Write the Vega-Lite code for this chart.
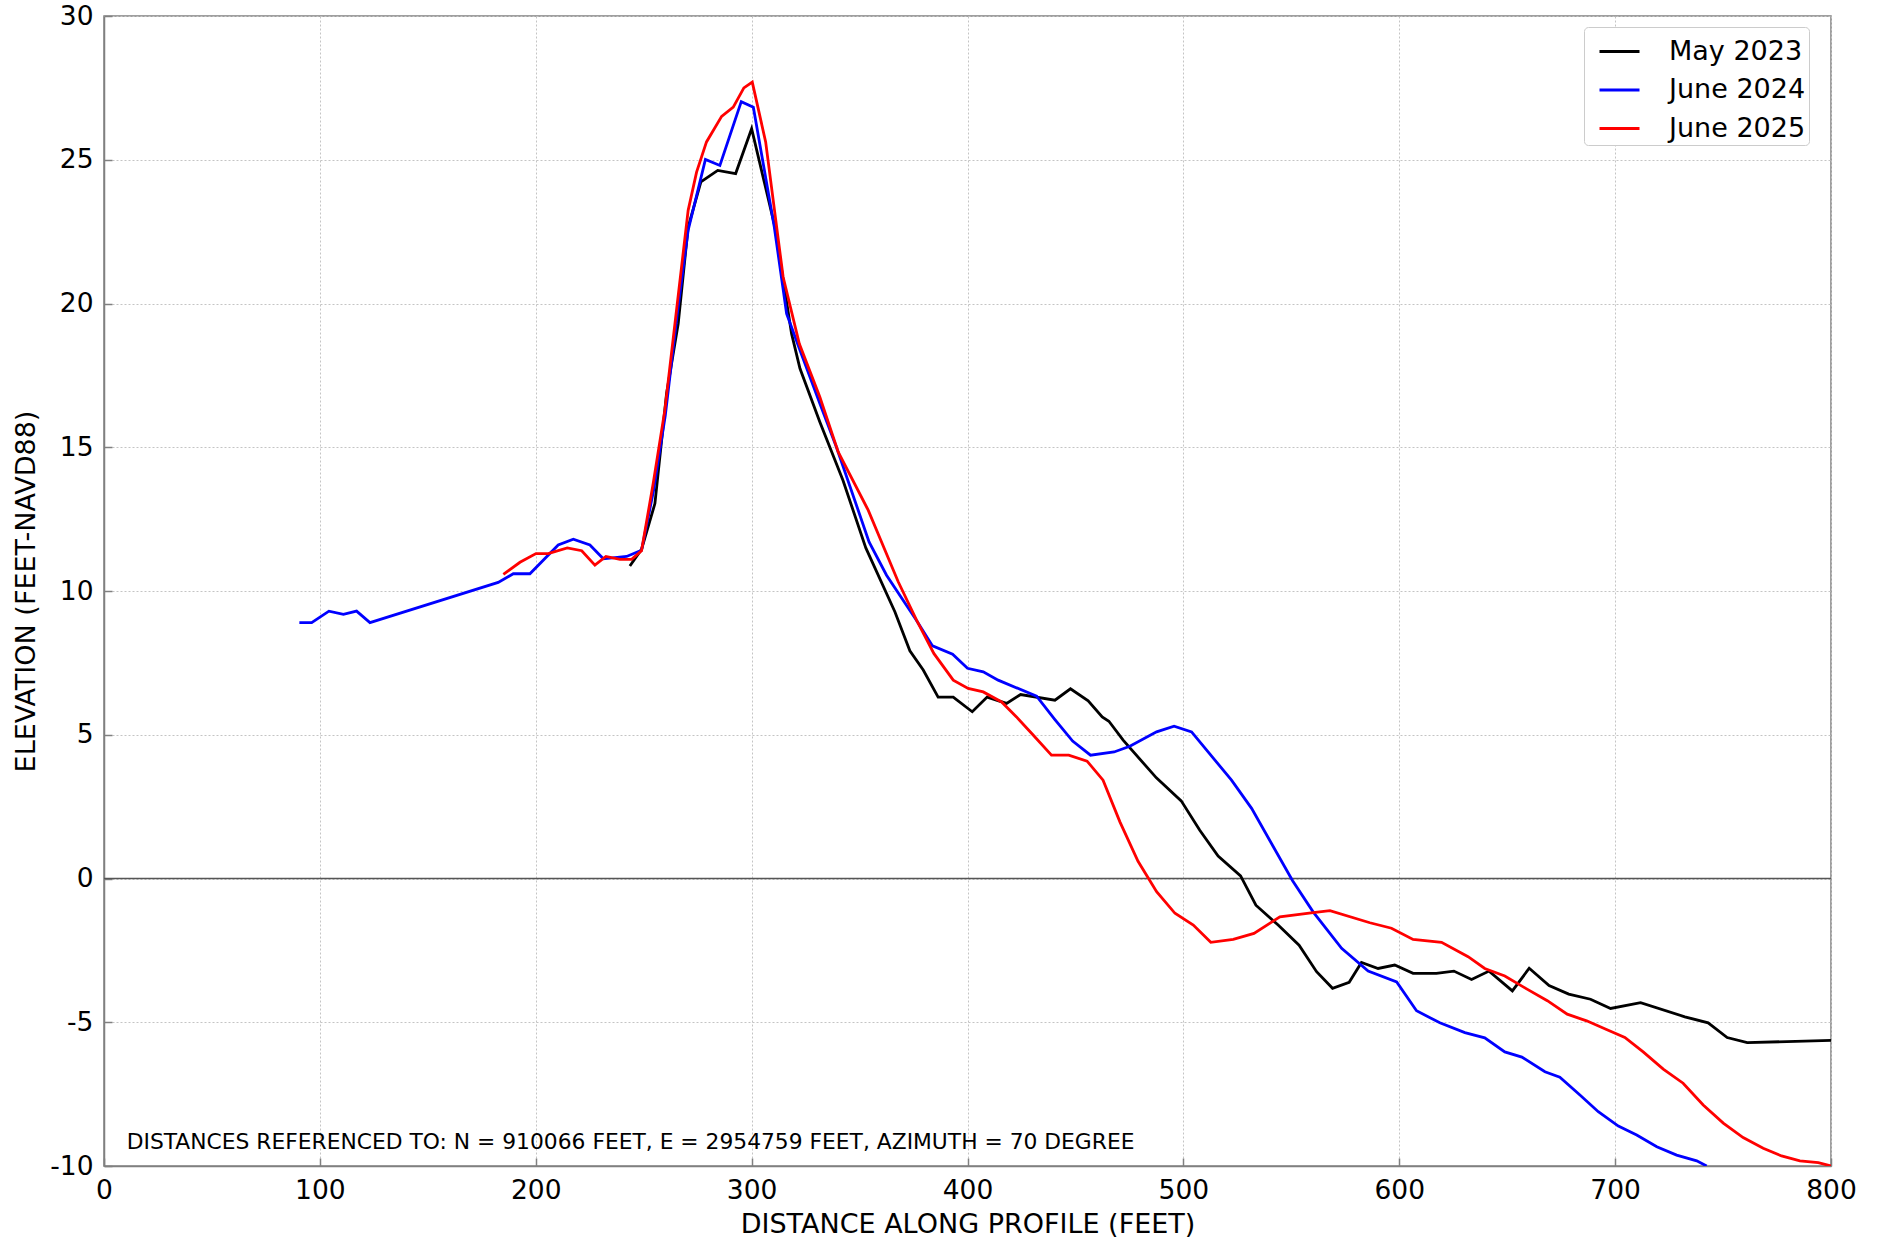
{
  "$schema": "https://vega.github.io/schema/vega-lite/v6.json",
  "width": 1727,
  "height": 1150,
  "autosize": "none",
  "padding": {"left": 104, "top": 16, "right": 48, "bottom": 78},
  "background": "white",
  "config": {
    "font": "DejaVu Sans",
    "view": {"stroke": "#808080", "strokeWidth": 1.5},
    "axis": {
      "domainColor": "#808080",
      "domainWidth": 1.5,
      "tickColor": "#808080",
      "tickWidth": 1.5,
      "tickSize": -8,
      "labelPadding": 19,
      "labelFontSize": 26.5,
      "labelColor": "#000000",
      "labelFont": "DejaVu Sans",
      "labelFlush": false,
      "labelOverlap": false,
      "titleFontSize": 27,
      "titleFontWeight": "normal",
      "titleColor": "#000000",
      "titleFont": "DejaVu Sans",
      "grid": true,
      "gridColor": "#c4c4c4",
      "gridDash": [2, 2],
      "gridWidth": 1
    },
    "legend": {
      "orient": "none",
      "legendX": 1480,
      "legendY": 11,
      "title": null,
      "labelFontSize": 27,
      "labelFont": "DejaVu Sans",
      "labelColor": "#000000",
      "symbolType": "stroke",
      "symbolSize": 1600,
      "symbolStrokeWidth": 3,
      "symbolOffset": 11,
      "labelOffset": 28,
      "rowPadding": 3.5,
      "padding": 3,
      "fillColor": "white",
      "strokeColor": "#cccccc",
      "cornerRadius": 4
    }
  },
  "layer": [
    {
      "data": {"values": [{"ref": "zero"}]},
      "mark": {"type": "rule", "color": "#555555", "strokeWidth": 1.5},
      "encoding": {"y": {"datum": 0, "type": "quantitative"}}
    },
    {
      "data": {
        "values": [
          {"series": "May 2023", "distance": 243.6, "elevation": 10.87},
          {"series": "May 2023", "distance": 249.0, "elevation": 11.45},
          {"series": "May 2023", "distance": 255.2, "elevation": 13.04},
          {"series": "May 2023", "distance": 260.6, "elevation": 16.87},
          {"series": "May 2023", "distance": 266.0, "elevation": 19.3},
          {"series": "May 2023", "distance": 270.6, "elevation": 22.66},
          {"series": "May 2023", "distance": 276.5, "elevation": 24.23},
          {"series": "May 2023", "distance": 284.3, "elevation": 24.63},
          {"series": "May 2023", "distance": 292.6, "elevation": 24.52},
          {"series": "May 2023", "distance": 300.0, "elevation": 26.08},
          {"series": "May 2023", "distance": 310.8, "elevation": 22.66},
          {"series": "May 2023", "distance": 318.5, "elevation": 18.95},
          {"series": "May 2023", "distance": 322.4, "elevation": 17.74},
          {"series": "May 2023", "distance": 331.6, "elevation": 15.88},
          {"series": "May 2023", "distance": 342.3, "elevation": 13.85},
          {"series": "May 2023", "distance": 352.9, "elevation": 11.5},
          {"series": "May 2023", "distance": 366.4, "elevation": 9.27},
          {"series": "May 2023", "distance": 373.3, "elevation": 7.92},
          {"series": "May 2023", "distance": 379.5, "elevation": 7.25},
          {"series": "May 2023", "distance": 386.4, "elevation": 6.31},
          {"series": "May 2023", "distance": 393.4, "elevation": 6.31},
          {"series": "May 2023", "distance": 402.2, "elevation": 5.8},
          {"series": "May 2023", "distance": 409.1, "elevation": 6.31},
          {"series": "May 2023", "distance": 418.1, "elevation": 6.09},
          {"series": "May 2023", "distance": 424.6, "elevation": 6.4},
          {"series": "May 2023", "distance": 440.5, "elevation": 6.2},
          {"series": "May 2023", "distance": 447.7, "elevation": 6.6},
          {"series": "May 2023", "distance": 455.9, "elevation": 6.18},
          {"series": "May 2023", "distance": 462.4, "elevation": 5.62},
          {"series": "May 2023", "distance": 465.5, "elevation": 5.47},
          {"series": "May 2023", "distance": 472.1, "elevation": 4.81},
          {"series": "May 2023", "distance": 487.5, "elevation": 3.5},
          {"series": "May 2023", "distance": 499.0, "elevation": 2.7},
          {"series": "May 2023", "distance": 507.6, "elevation": 1.68},
          {"series": "May 2023", "distance": 516.1, "elevation": 0.78},
          {"series": "May 2023", "distance": 526.5, "elevation": 0.09},
          {"series": "May 2023", "distance": 533.6, "elevation": -0.93},
          {"series": "May 2023", "distance": 543.9, "elevation": -1.62},
          {"series": "May 2023", "distance": 553.6, "elevation": -2.32},
          {"series": "May 2023", "distance": 561.7, "elevation": -3.24},
          {"series": "May 2023", "distance": 569.1, "elevation": -3.82},
          {"series": "May 2023", "distance": 576.8, "elevation": -3.61},
          {"series": "May 2023", "distance": 582.5, "elevation": -2.92},
          {"series": "May 2023", "distance": 590.2, "elevation": -3.13},
          {"series": "May 2023", "distance": 597.9, "elevation": -3.01},
          {"series": "May 2023", "distance": 606.4, "elevation": -3.3},
          {"series": "May 2023", "distance": 617.2, "elevation": -3.3},
          {"series": "May 2023", "distance": 625.3, "elevation": -3.22},
          {"series": "May 2023", "distance": 633.5, "elevation": -3.51},
          {"series": "May 2023", "distance": 641.6, "elevation": -3.22},
          {"series": "May 2023", "distance": 652.4, "elevation": -3.91},
          {"series": "May 2023", "distance": 660.2, "elevation": -3.12},
          {"series": "May 2023", "distance": 669.4, "elevation": -3.72},
          {"series": "May 2023", "distance": 678.5, "elevation": -4.02},
          {"series": "May 2023", "distance": 688.6, "elevation": -4.2},
          {"series": "May 2023", "distance": 697.9, "elevation": -4.52},
          {"series": "May 2023", "distance": 711.8, "elevation": -4.32},
          {"series": "May 2023", "distance": 732.3, "elevation": -4.81},
          {"series": "May 2023", "distance": 743.1, "elevation": -5.02},
          {"series": "May 2023", "distance": 751.9, "elevation": -5.53},
          {"series": "May 2023", "distance": 761.2, "elevation": -5.71},
          {"series": "May 2023", "distance": 800.0, "elevation": -5.63},

          {"series": "June 2024", "distance": 90.5, "elevation": 8.9},
          {"series": "June 2024", "distance": 96.2, "elevation": 8.9},
          {"series": "June 2024", "distance": 104.2, "elevation": 9.3},
          {"series": "June 2024", "distance": 110.9, "elevation": 9.19},
          {"series": "June 2024", "distance": 117.0, "elevation": 9.3},
          {"series": "June 2024", "distance": 123.2, "elevation": 8.9},
          {"series": "June 2024", "distance": 182.6, "elevation": 10.3},
          {"series": "June 2024", "distance": 189.6, "elevation": 10.6},
          {"series": "June 2024", "distance": 197.3, "elevation": 10.6},
          {"series": "June 2024", "distance": 210.4, "elevation": 11.6},
          {"series": "June 2024", "distance": 217.4, "elevation": 11.8},
          {"series": "June 2024", "distance": 225.1, "elevation": 11.6},
          {"series": "June 2024", "distance": 231.3, "elevation": 11.12},
          {"series": "June 2024", "distance": 242.1, "elevation": 11.2},
          {"series": "June 2024", "distance": 249.0, "elevation": 11.42},
          {"series": "June 2024", "distance": 254.6, "elevation": 13.5},
          {"series": "June 2024", "distance": 260.0, "elevation": 16.1},
          {"series": "June 2024", "distance": 265.5, "elevation": 19.6},
          {"series": "June 2024", "distance": 270.6, "elevation": 22.55},
          {"series": "June 2024", "distance": 278.6, "elevation": 25.01},
          {"series": "June 2024", "distance": 285.3, "elevation": 24.8},
          {"series": "June 2024", "distance": 295.2, "elevation": 27.02},
          {"series": "June 2024", "distance": 300.8, "elevation": 26.83},
          {"series": "June 2024", "distance": 310.5, "elevation": 22.66},
          {"series": "June 2024", "distance": 316.2, "elevation": 19.65},
          {"series": "June 2024", "distance": 322.4, "elevation": 18.37},
          {"series": "June 2024", "distance": 331.6, "elevation": 16.52},
          {"series": "June 2024", "distance": 339.3, "elevation": 15.0},
          {"series": "June 2024", "distance": 354.4, "elevation": 11.71},
          {"series": "June 2024", "distance": 362.5, "elevation": 10.55},
          {"series": "June 2024", "distance": 376.1, "elevation": 9.01},
          {"series": "June 2024", "distance": 383.8, "elevation": 8.09},
          {"series": "June 2024", "distance": 393.1, "elevation": 7.8},
          {"series": "June 2024", "distance": 400.0, "elevation": 7.31},
          {"series": "June 2024", "distance": 407.3, "elevation": 7.19},
          {"series": "June 2024", "distance": 414.2, "elevation": 6.9},
          {"series": "June 2024", "distance": 432.0, "elevation": 6.34},
          {"series": "June 2024", "distance": 440.5, "elevation": 5.53},
          {"series": "June 2024", "distance": 448.7, "elevation": 4.78},
          {"series": "June 2024", "distance": 457.0, "elevation": 4.29},
          {"series": "June 2024", "distance": 467.9, "elevation": 4.4},
          {"series": "June 2024", "distance": 475.2, "elevation": 4.6},
          {"series": "June 2024", "distance": 487.6, "elevation": 5.1},
          {"series": "June 2024", "distance": 495.7, "elevation": 5.3},
          {"series": "June 2024", "distance": 503.8, "elevation": 5.1},
          {"series": "June 2024", "distance": 522.3, "elevation": 3.42},
          {"series": "June 2024", "distance": 531.6, "elevation": 2.44},
          {"series": "June 2024", "distance": 550.6, "elevation": -0.08},
          {"series": "June 2024", "distance": 560.1, "elevation": -1.16},
          {"series": "June 2024", "distance": 573.3, "elevation": -2.43},
          {"series": "June 2024", "distance": 585.6, "elevation": -3.22},
          {"series": "June 2024", "distance": 598.8, "elevation": -3.6},
          {"series": "June 2024", "distance": 608.0, "elevation": -4.6},
          {"series": "June 2024", "distance": 618.8, "elevation": -5.02},
          {"series": "June 2024", "distance": 630.4, "elevation": -5.36},
          {"series": "June 2024", "distance": 639.6, "elevation": -5.54},
          {"series": "June 2024", "distance": 648.9, "elevation": -6.03},
          {"series": "June 2024", "distance": 656.8, "elevation": -6.21},
          {"series": "June 2024", "distance": 667.5, "elevation": -6.72},
          {"series": "June 2024", "distance": 674.4, "elevation": -6.91},
          {"series": "June 2024", "distance": 683.7, "elevation": -7.53},
          {"series": "June 2024", "distance": 692.2, "elevation": -8.11},
          {"series": "June 2024", "distance": 701.5, "elevation": -8.61},
          {"series": "June 2024", "distance": 710.0, "elevation": -8.92},
          {"series": "June 2024", "distance": 719.3, "elevation": -9.33},
          {"series": "June 2024", "distance": 728.5, "elevation": -9.62},
          {"series": "June 2024", "distance": 737.8, "elevation": -9.82},
          {"series": "June 2024", "distance": 742.4, "elevation": -10.0},

          {"series": "June 2025", "distance": 185.0, "elevation": 10.58},
          {"series": "June 2025", "distance": 192.7, "elevation": 11.0},
          {"series": "June 2025", "distance": 200.1, "elevation": 11.3},
          {"series": "June 2025", "distance": 205.8, "elevation": 11.3},
          {"series": "June 2025", "distance": 214.6, "elevation": 11.5},
          {"series": "June 2025", "distance": 221.3, "elevation": 11.4},
          {"series": "June 2025", "distance": 227.4, "elevation": 10.9},
          {"series": "June 2025", "distance": 232.5, "elevation": 11.2},
          {"series": "June 2025", "distance": 239.0, "elevation": 11.1},
          {"series": "June 2025", "distance": 244.4, "elevation": 11.1},
          {"series": "June 2025", "distance": 249.0, "elevation": 11.4},
          {"series": "June 2025", "distance": 254.4, "elevation": 13.74},
          {"series": "June 2025", "distance": 259.8, "elevation": 16.29},
          {"series": "June 2025", "distance": 270.6, "elevation": 23.24},
          {"series": "June 2025", "distance": 274.5, "elevation": 24.57},
          {"series": "June 2025", "distance": 279.1, "elevation": 25.62},
          {"series": "June 2025", "distance": 286.1, "elevation": 26.51},
          {"series": "June 2025", "distance": 291.5, "elevation": 26.83},
          {"series": "June 2025", "distance": 296.4, "elevation": 27.5},
          {"series": "June 2025", "distance": 300.3, "elevation": 27.7},
          {"series": "June 2025", "distance": 306.5, "elevation": 25.62},
          {"series": "June 2025", "distance": 314.6, "elevation": 20.92},
          {"series": "June 2025", "distance": 322.1, "elevation": 18.6},
          {"series": "June 2025", "distance": 331.6, "elevation": 16.75},
          {"series": "June 2025", "distance": 340.1, "elevation": 14.84},
          {"series": "June 2025", "distance": 354.0, "elevation": 12.81},
          {"series": "June 2025", "distance": 367.9, "elevation": 10.32},
          {"series": "June 2025", "distance": 376.4, "elevation": 8.99},
          {"series": "June 2025", "distance": 384.4, "elevation": 7.83},
          {"series": "June 2025", "distance": 393.4, "elevation": 6.9},
          {"series": "June 2025", "distance": 400.3, "elevation": 6.61},
          {"series": "June 2025", "distance": 407.3, "elevation": 6.49},
          {"series": "June 2025", "distance": 415.8, "elevation": 6.14},
          {"series": "June 2025", "distance": 422.7, "elevation": 5.62},
          {"series": "June 2025", "distance": 430.4, "elevation": 4.99},
          {"series": "June 2025", "distance": 438.9, "elevation": 4.29},
          {"series": "June 2025", "distance": 446.9, "elevation": 4.29},
          {"series": "June 2025", "distance": 455.4, "elevation": 4.08},
          {"series": "June 2025", "distance": 462.8, "elevation": 3.42},
          {"series": "June 2025", "distance": 470.6, "elevation": 1.97},
          {"series": "June 2025", "distance": 479.0, "elevation": 0.6},
          {"series": "June 2025", "distance": 487.6, "elevation": -0.46},
          {"series": "June 2025", "distance": 496.1, "elevation": -1.21},
          {"series": "June 2025", "distance": 504.6, "elevation": -1.62},
          {"series": "June 2025", "distance": 512.7, "elevation": -2.22},
          {"series": "June 2025", "distance": 523.1, "elevation": -2.12},
          {"series": "June 2025", "distance": 532.7, "elevation": -1.91},
          {"series": "June 2025", "distance": 544.7, "elevation": -1.33},
          {"series": "June 2025", "distance": 560.1, "elevation": -1.19},
          {"series": "June 2025", "distance": 567.9, "elevation": -1.12},
          {"series": "June 2025", "distance": 586.4, "elevation": -1.54},
          {"series": "June 2025", "distance": 596.4, "elevation": -1.73},
          {"series": "June 2025", "distance": 606.4, "elevation": -2.12},
          {"series": "June 2025", "distance": 619.6, "elevation": -2.22},
          {"series": "June 2025", "distance": 631.9, "elevation": -2.72},
          {"series": "June 2025", "distance": 639.6, "elevation": -3.13},
          {"series": "June 2025", "distance": 648.9, "elevation": -3.39},
          {"series": "June 2025", "distance": 659.0, "elevation": -3.84},
          {"series": "June 2025", "distance": 668.6, "elevation": -4.25},
          {"series": "June 2025", "distance": 677.8, "elevation": -4.72},
          {"series": "June 2025", "distance": 686.8, "elevation": -4.95},
          {"series": "June 2025", "distance": 696.0, "elevation": -5.25},
          {"series": "June 2025", "distance": 704.5, "elevation": -5.53},
          {"series": "June 2025", "distance": 713.0, "elevation": -6.03},
          {"series": "June 2025", "distance": 722.3, "elevation": -6.63},
          {"series": "June 2025", "distance": 731.5, "elevation": -7.12},
          {"series": "June 2025", "distance": 740.8, "elevation": -7.88},
          {"series": "June 2025", "distance": 750.1, "elevation": -8.51},
          {"series": "June 2025", "distance": 759.3, "elevation": -9.01},
          {"series": "June 2025", "distance": 768.6, "elevation": -9.38},
          {"series": "June 2025", "distance": 777.1, "elevation": -9.65},
          {"series": "June 2025", "distance": 785.6, "elevation": -9.82},
          {"series": "June 2025", "distance": 794.1, "elevation": -9.88},
          {"series": "June 2025", "distance": 800.0, "elevation": -10.0}
        ]
      },
      "mark": {"type": "line", "strokeWidth": 2.8, "clip": true},
      "encoding": {
        "x": {
          "field": "distance",
          "type": "quantitative",
          "scale": {"domain": [0, 800], "nice": false, "zero": false},
          "axis": {
            "title": "DISTANCE ALONG PROFILE (FEET)",
            "values": [0, 100, 200, 300, 400, 500, 600, 700, 800],
            "labelExpr": "'' + datum.value",
            "titlePadding": 8
          }
        },
        "y": {
          "field": "elevation",
          "type": "quantitative",
          "scale": {"domain": [-10, 30], "nice": false, "zero": false},
          "axis": {
            "title": "ELEVATION (FEET-NAVD88)",
            "values": [-10, -5, 0, 5, 10, 15, 20, 25, 30],
            "labelExpr": "'' + datum.value",
            "titlePadding": 9
          }
        },
        "color": {
          "field": "series",
          "type": "nominal",
          "scale": {
            "domain": ["May 2023", "June 2024", "June 2025"],
            "range": ["#000000", "#0000ff", "#ff0000"]
          },
          "legend": {"title": null}
        }
      }
    },
    {
      "data": {"values": [{"ref": "note"}]},
      "mark": {"type": "text", "align": "left", "baseline": "middle", "fontSize": 21.8, "font": "DejaVu Sans", "color": "#000000"},
      "encoding": {
        "x": {"datum": 10.5, "type": "quantitative"},
        "y": {"datum": -9.18, "type": "quantitative"},
        "text": {"value": "DISTANCES REFERENCED TO: N = 910066 FEET, E = 2954759 FEET, AZIMUTH = 70 DEGREE"}
      }
    }
  ]
}
